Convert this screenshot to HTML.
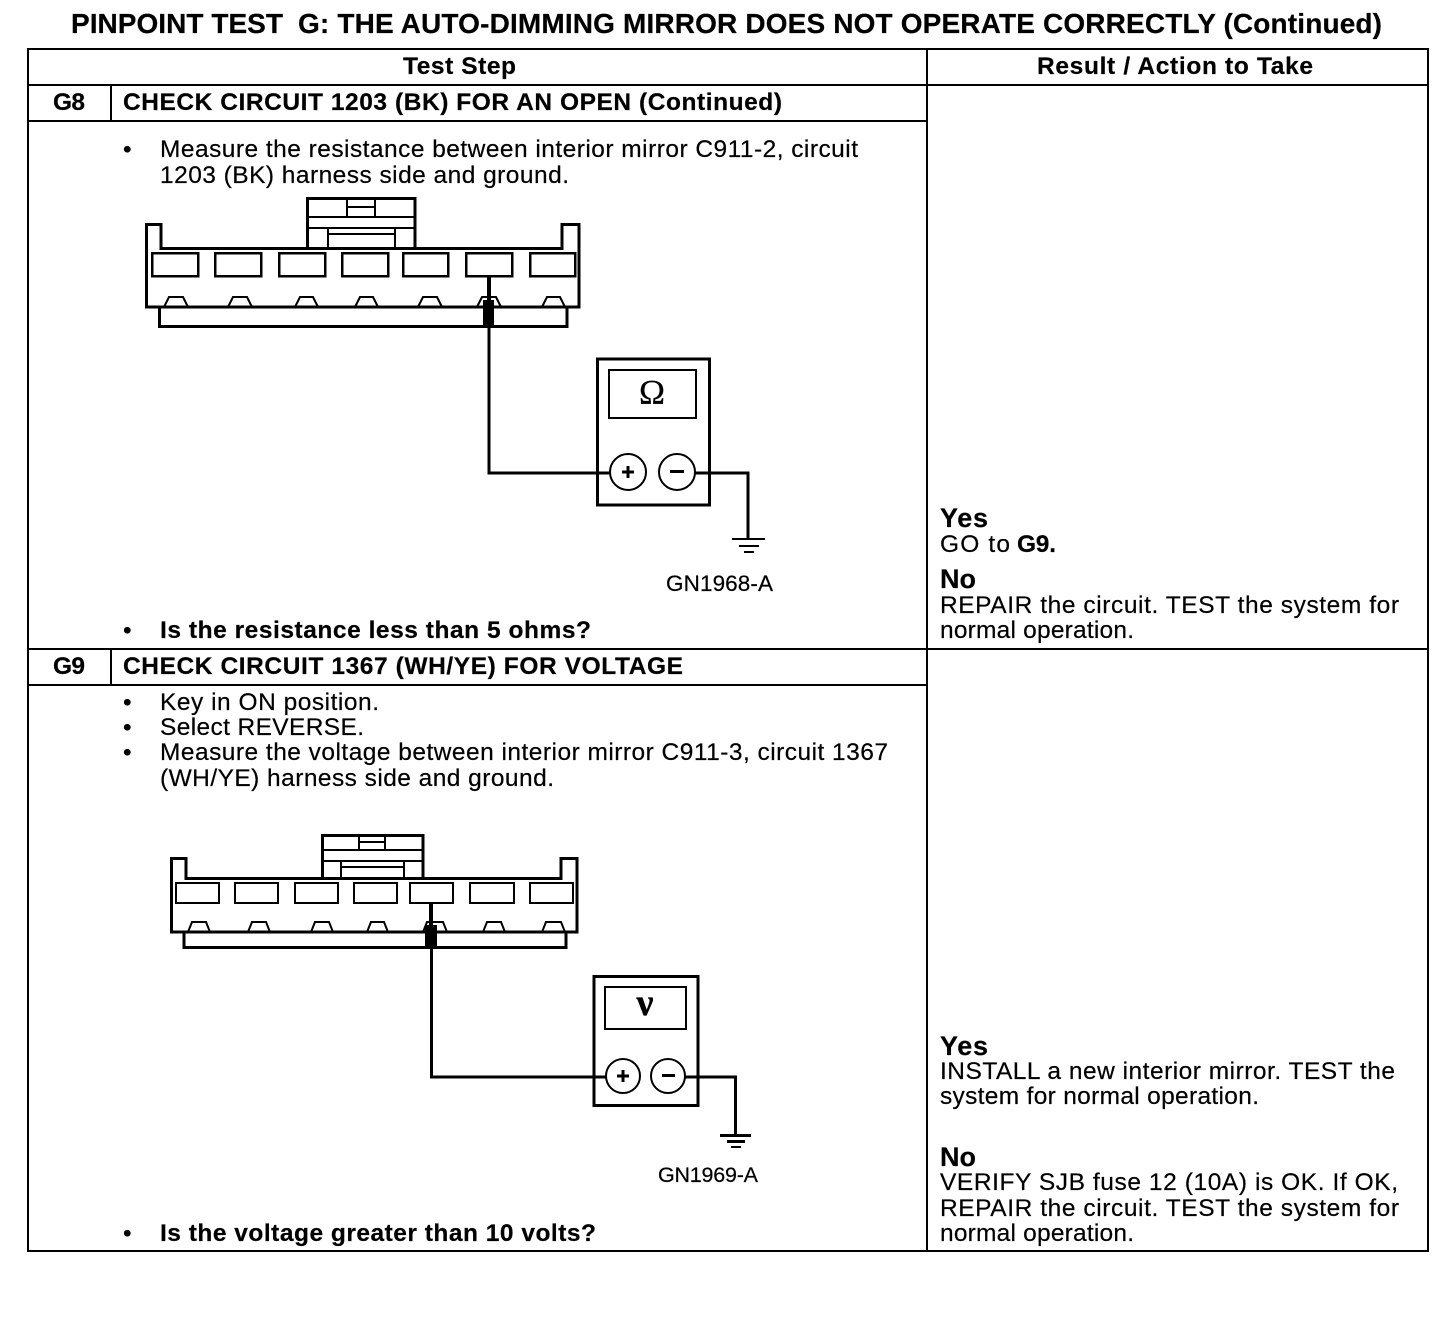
<!DOCTYPE html>
<html><head><meta charset="utf-8"><style>
html,body{margin:0;padding:0;background:#fff}
svg{display:block}
text{font-family:"Liberation Sans",sans-serif;font-size:24.5px;fill:#000;stroke:#000;stroke-width:.2px}
.b{font-weight:bold}
.t{font-weight:bold;font-size:28px}
.h{font-weight:bold;font-size:27px}
.s{font-size:22.5px}
.s2{font-size:21.5px}
line,rect,path,circle{stroke:#000;fill:none}
</style></head><body>
<svg width="1456" height="1320" viewBox="0 0 1456 1320" xmlns="http://www.w3.org/2000/svg">
<rect x="0" y="0" width="1456" height="1320" style="stroke:none;fill:#fff"/>

<text class="t" x="71" y="33" textLength="212" lengthAdjust="spacing">PINPOINT TEST</text>
<text class="t" x="298" y="33" textLength="1084" lengthAdjust="spacing">G: THE AUTO-DIMMING MIRROR DOES NOT OPERATE CORRECTLY (Continued)</text>

<g stroke-width="2" shape-rendering="crispEdges">
<rect x="28" y="49" width="1400" height="1202" stroke-width="2"/>
<line x1="27" y1="85" x2="1428" y2="85" stroke-width="2"/>
<line x1="927" y1="49" x2="927" y2="1251" stroke-width="2"/>
<line x1="27" y1="121" x2="927" y2="121" stroke-width="2"/>
<line x1="27" y1="649" x2="1428" y2="649" stroke-width="2"/>
<line x1="27" y1="685" x2="927" y2="685" stroke-width="2"/>
<line x1="111" y1="85" x2="111" y2="121" stroke-width="2"/>
<line x1="111" y1="649" x2="111" y2="685" stroke-width="2"/>
</g>

<text class="b" x="403" y="74" textLength="113" lengthAdjust="spacing">Test Step</text>
<text class="b" x="1037" y="74" textLength="276" lengthAdjust="spacing">Result / Action to Take</text>
<text class="b" x="53" y="110" textLength="32" lengthAdjust="spacing">G8</text>
<text class="b" x="123" y="110" textLength="659" lengthAdjust="spacing">CHECK CIRCUIT 1203 (BK) FOR AN OPEN (Continued)</text>
<text x="123" y="157">•</text>
<text x="160" y="157" textLength="698" lengthAdjust="spacing">Measure the resistance between interior mirror C911-2, circuit</text>
<text x="160" y="183" textLength="409" lengthAdjust="spacing">1203 (BK) harness side and ground.</text>
<text class="s" x="666" y="591" textLength="107" lengthAdjust="spacing">GN1968-A</text>
<text x="123" y="638">•</text>
<text class="b" x="160" y="638" textLength="431" lengthAdjust="spacing">Is the resistance less than 5 ohms?</text>

<text class="b" x="53" y="674" textLength="32" lengthAdjust="spacing">G9</text>
<text class="b" x="123" y="674" textLength="560" lengthAdjust="spacing">CHECK CIRCUIT 1367 (WH/YE) FOR VOLTAGE</text>
<text x="123" y="710">•</text>
<text x="160" y="710" textLength="219" lengthAdjust="spacing">Key in ON position.</text>
<text x="123" y="735">•</text>
<text x="160" y="735" textLength="204" lengthAdjust="spacing">Select REVERSE.</text>
<text x="123" y="760">•</text>
<text x="160" y="760" textLength="728" lengthAdjust="spacing">Measure the voltage between interior mirror C911-3, circuit 1367</text>
<text x="160" y="786" textLength="394" lengthAdjust="spacing">(WH/YE) harness side and ground.</text>
<text class="s2" x="658" y="1182" textLength="100" lengthAdjust="spacing">GN1969-A</text>
<text x="123" y="1241">•</text>
<text class="b" x="160" y="1241" textLength="436" lengthAdjust="spacing">Is the voltage greater than 10 volts?</text>

<text class="h" x="940" y="527" textLength="48" lengthAdjust="spacing">Yes</text>
<text x="940" y="552" textLength="70" lengthAdjust="spacing">GO to</text>
<text class="b" x="1017" y="552" textLength="39" lengthAdjust="spacing">G9.</text>
<text class="h" x="940" y="588" textLength="36" lengthAdjust="spacing">No</text>
<text x="940" y="613" textLength="459" lengthAdjust="spacing">REPAIR the circuit. TEST the system for</text>
<text x="940" y="638" textLength="194" lengthAdjust="spacing">normal operation.</text>

<text class="h" x="940" y="1055" textLength="48" lengthAdjust="spacing">Yes</text>
<text x="940" y="1079" textLength="455" lengthAdjust="spacing">INSTALL a new interior mirror. TEST the</text>
<text x="940" y="1104" textLength="319" lengthAdjust="spacing">system for normal operation.</text>
<text class="h" x="940" y="1166" textLength="36" lengthAdjust="spacing">No</text>
<text x="940" y="1190" textLength="458" lengthAdjust="spacing">VERIFY SJB fuse 12 (10A) is OK. If OK,</text>
<text x="940" y="1216" textLength="459" lengthAdjust="spacing">REPAIR the circuit. TEST the system for</text>
<text x="940" y="1241" textLength="194" lengthAdjust="spacing">normal operation.</text>

<!-- G8 connector -->
<g shape-rendering="crispEdges">
<path stroke-width="3" d="M307.5 248V198.5H415V248"/>
<path stroke-width="3" d="M146.5 307V224.5H161V248.5H562V224.5H579V307Z"/>
<path stroke-width="2" d="M308 217H415M308 228H415M328 228V248M395 228V248M328 234H395M347 198V217M375 198V217M347 207H375"/>
<path stroke-width="3" d="M159.5 307V326.5H567V307"/>
<g stroke-width="2.5">
<rect x="152" y="253" width="46" height="23"/><rect x="215" y="253" width="46" height="23"/>
<rect x="279" y="253" width="46" height="23"/><rect x="342" y="253" width="46" height="23"/>
<rect x="403" y="253" width="45" height="23"/><rect x="466" y="253" width="46" height="23"/>
<rect x="530" y="253" width="45" height="23"/>
</g>
</g>
<g stroke-width="2">
<path d="M164 307L169 297H183L188 307M228 307L233 297H247L252 307M295 307L300 297H313L318 307M355 307L360 297H373L378 307M418 307L423 297H437L442 307M477 307L482 297H496L501 307M542 307L547 297H560L565 307"/>
</g>
<g shape-rendering="crispEdges">
<rect x="483" y="300" width="11" height="27" style="fill:#000;stroke:none"/>
<rect x="487" y="277" width="4" height="24" style="fill:#000;stroke:none"/>
<path stroke-width="3" d="M489 327V473H610"/>
<rect x="597.5" y="359" width="112" height="146" stroke-width="3"/>
<rect x="609" y="370" width="87" height="48" stroke-width="2"/>
<path stroke-width="3" d="M695 473H748V538"/>
<path stroke-width="2" d="M732 539H765"/>
<path stroke-width="2" d="M739 546H759"/>
<path stroke-width="2" d="M744 552H754"/>
</g>
<circle cx="628" cy="472" r="18" stroke-width="2" style="fill:#fff"/>
<circle cx="677" cy="472" r="18" stroke-width="2" style="fill:#fff"/>
<path stroke-width="3" d="M622 472H634M628 466V478M670 471.500H684"/>
<text x="652" y="404" text-anchor="middle" style="font-family:'Liberation Serif',serif;font-size:35px">Ω</text>

<!-- G9 connector -->
<g shape-rendering="crispEdges">
<path stroke-width="3" d="M322.500 878V835.500H423V878"/>
<path stroke-width="3" d="M171.500 932V858.500H186V878.500H561V858.500H577V932Z"/>
<path stroke-width="2" d="M323 850H423M323 861H423M341 861V878M404 861V878M341 867H404M359 835V850M385 835V850M359 842H385"/>
<path stroke-width="3" d="M184 932V947.500H566V932"/>
<g stroke-width="2">
<rect x="176" y="883" width="43" height="20"/><rect x="235" y="883" width="43" height="20"/>
<rect x="295" y="883" width="43" height="20"/><rect x="354" y="883" width="43" height="20"/>
<rect x="410" y="883" width="43" height="20"/><rect x="470" y="883" width="44" height="20"/>
<rect x="530" y="883" width="43" height="20"/>
</g>
</g>
<path stroke-width="2" d="M188 932L192 922H206L210 932M248 932L252 922H266L270 932M311 932L315 922H329L333 932M367 932L371 922H384L388 932M423 932L427 922H443L447 932M483 932L487 922H501L505 932M542 932L546 922H561L565 932"/>
<g shape-rendering="crispEdges">
<rect x="425" y="925" width="12" height="23" style="fill:#000;stroke:none"/>
<rect x="429" y="904" width="4" height="22" style="fill:#000;stroke:none"/>
<path stroke-width="3" d="M431.500 948V1077H606"/>
<rect x="594" y="976.500" width="104" height="129" stroke-width="3"/>
<rect x="605" y="987" width="81" height="42" stroke-width="2"/>
<path stroke-width="3" d="M685 1077H735.500V1135"/>
<path stroke-width="3" d="M720 1135.500H751"/>
<path stroke-width="3" d="M727 1141.500H745"/>
<path stroke-width="2" d="M731 1147H741"/>
</g>
<circle cx="623" cy="1076" r="17" stroke-width="2" style="fill:#fff"/>
<circle cx="668" cy="1076" r="17" stroke-width="2" style="fill:#fff"/>
<path stroke-width="3" d="M617 1076H629M623 1070V1082M662 1075.500H675"/>
<text x="645" y="1015" text-anchor="middle" style="font-family:'Liberation Serif',serif;font-size:38px;font-weight:bold">ν</text>
</svg>
</body></html>
